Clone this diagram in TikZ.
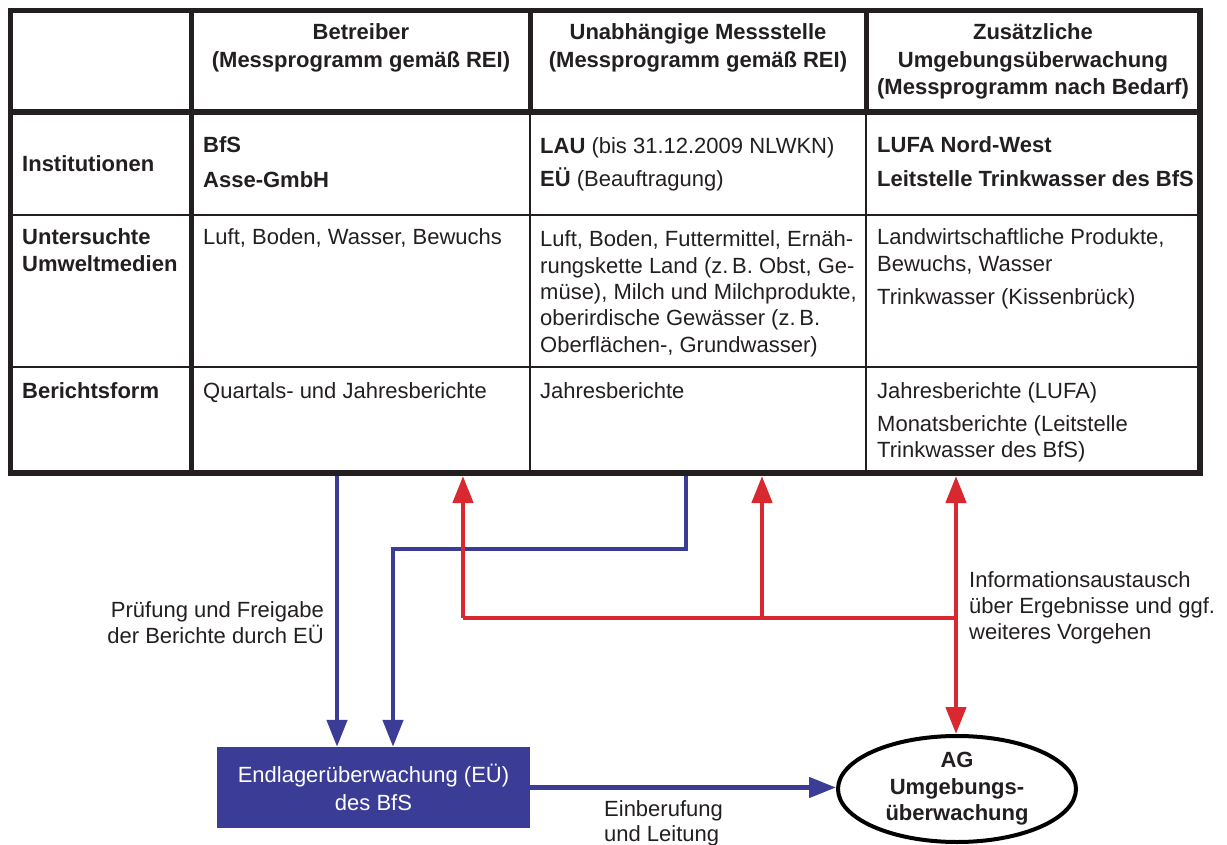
\documentclass[tikz,border=0pt]{standalone}
\usepackage{fontspec}
\setmainfont{Liberation Sans}
\usetikzlibrary{arrows.meta,shapes.geometric}
\definecolor{dblue}{RGB}{58,60,150}
\definecolor{dred}{RGB}{217,40,48}
\definecolor{txt}{RGB}{35,31,32}
\newcommand{\mlines}[2][l]{\begin{tabular}[t]{@{}#1@{}}#2\end{tabular}}
\begin{document}
\begin{tikzpicture}[x=1pt,y=-1pt,
  every node/.style={inner sep=0pt, text=txt, font=\fontsize{22}{26.3}\selectfont},
  hd/.style={anchor=base, font=\fontsize{22}{27.5}\selectfont\bfseries},
  cell/.style={anchor=base west},
  lab/.style={anchor=base west, font=\fontsize{22}{27}\selectfont\bfseries},
  thick border/.style={draw=txt, line width=5.5pt},
  thin rule/.style={draw=txt, line width=2.8pt},
  bl/.style={draw=dblue, line width=4.5pt},
  rd/.style={draw=dred, line width=4.5pt},
  tip/.style={-{Triangle[length=27pt,width=20pt]}},
  tipboth/.style={{Triangle[length=27pt,width=20pt]}-{Triangle[length=27pt,width=20pt]}}
]
\useasboundingbox (0,0) rectangle (1227,845);

% ---- table grid
\draw[thin rule] (10.5,215) -- (1200,215);
\draw[thin rule] (10.5,367) -- (1200,367);
\draw[thin rule, line width=2.5pt] (530,112) -- (530,473);
\draw[thin rule, line width=2.5pt] (866,112) -- (866,473);
\draw[thick border, line width=5pt] (530,10.5) -- (530,112);
\draw[thick border, line width=5pt] (866,10.5) -- (866,112);
\draw[thick border, line width=5pt] (191,10.5) -- (191,473);
\draw[thick border] (10.5,112) -- (1200,112);
\draw[thick border] (10.5,10.5) rectangle (1200,473);

% ---- header
\node[hd] (h1) at (361,40) {\mlines[c]{Betreiber\\(Messprogramm gemäß REI)}};
\node[hd] (h2) at (698,40) {\mlines[c]{Unabhängige Messstelle\\(Messprogramm gemäß REI)}};
\node[hd] (h3) at (1033,40) {\mlines[c]{Zusätzliche\\Umgebungsüberwachung\\(Messprogramm nach Bedarf)}};

% ---- row: Institutionen
\node[lab] (l1) at (22,172) {Institutionen};
\node[cell, font=\fontsize{22}{35}\selectfont\bfseries] (i1) at (203,153) {\mlines{BfS\\Asse-GmbH}};
\node[cell, font=\fontsize{22}{33}\selectfont] (i2) at (540,154) {\mlines{\textbf{LAU} (bis 31.12.2009 NLWKN)\\\textbf{EÜ} (Beauftragung)}};
\node[cell, font=\fontsize{22}{34}\selectfont\bfseries] (i3) at (877,153) {\mlines{LUFA Nord-West\\Leitstelle Trinkwasser des BfS}};

% ---- row: Untersuchte Umweltmedien
\node[lab] (l2) at (22,245) {\mlines{Untersuchte\\Umweltmedien}};
\node[cell] (u1) at (203,245) {Luft, Boden, Wasser, Bewuchs};
\node[cell] (u2) at (540,247) {\mlines{Luft, Boden, Futtermittel, Ernäh-\\rungskette Land (z.\,B. Obst, Ge-\\müse), Milch und Milchprodukte,\\oberirdische Gewässer (z.\,B.\\Oberflächen-, Grundwasser)}};
\node[cell, font=\fontsize{22}{27}\selectfont] (u3) at (877,245) {\mlines{Landwirtschaftliche Produkte,\\Bewuchs, Wasser\\[6pt]Trinkwasser (Kissenbrück)}};

% ---- row: Berichtsform
\node[lab] (l3) at (22,398) {Berichtsform};
\node[cell] (b1) at (203,398) {Quartals- und Jahresberichte};
\node[cell] (b2) at (540,398) {Jahresberichte};
\node[cell, font=\fontsize{22}{25.5}\selectfont] (b3) at (877,398) {\mlines{Jahresberichte (LUFA)\\[8pt]Monatsberichte (Leitstelle\\Trinkwasser des BfS)}};

% ---- lower nodes
\node[fill=dblue, minimum width=313pt, minimum height=81pt, align=center,
      text=white, font=\fontsize{22}{28}\selectfont] (eu) at (373.5,787.5)
      {Endlagerüberwachung (EÜ)\\des BfS};
\node[draw=black, line width=4pt, ellipse, minimum width=238pt, minimum height=106pt,
      align=center, font=\fontsize{22}{26.5}\selectfont\bfseries] (ag) at (957,789)
      {AG\\Umgebungs-\\überwachung};

% ---- coordinates at table bottom
\coordinate (bt1) at (337,476);
\coordinate (bt2) at (686,476);
\coordinate (bm)  at (393,549);
\coordinate (rt1) at (463,476);
\coordinate (rt2) at (762,476);
\coordinate (rt3) at (956,476);
\coordinate (rh)  at (463,618);

% ---- blue connectors
\draw[bl,tip] (bt1) -- (bt1 |- eu.north);
\draw[bl,tip] (bt2) |- (bm) -- (bm |- eu.north);
\draw[bl,tip] (eu.east) -- (eu.east -| ag.west);

% ---- red connectors
\draw[rd] (rh) -- (rh -| rt3);
\draw[rd,tip] (rh) -- (rt1);
\draw[rd,tip] (rt2 |- rh) -- (rt2);
\draw[rd,tipboth] (rt3) -- (rt3 |- ag.north);

% ---- labels
\node[anchor=base east] (t1) at (324,617) {\mlines[r]{Prüfung und Freigabe\\der Berichte durch EÜ}};
\node[anchor=base west] (t2) at (969,587) {\mlines{Informationsaustausch\\über Ergebnisse und ggf.\\weiteres Vorgehen}};
\node[anchor=base west, font=\fontsize{22}{25}\selectfont] (t3) at (604,816) {\mlines{Einberufung\\und Leitung}};
\end{tikzpicture}
\end{document}
